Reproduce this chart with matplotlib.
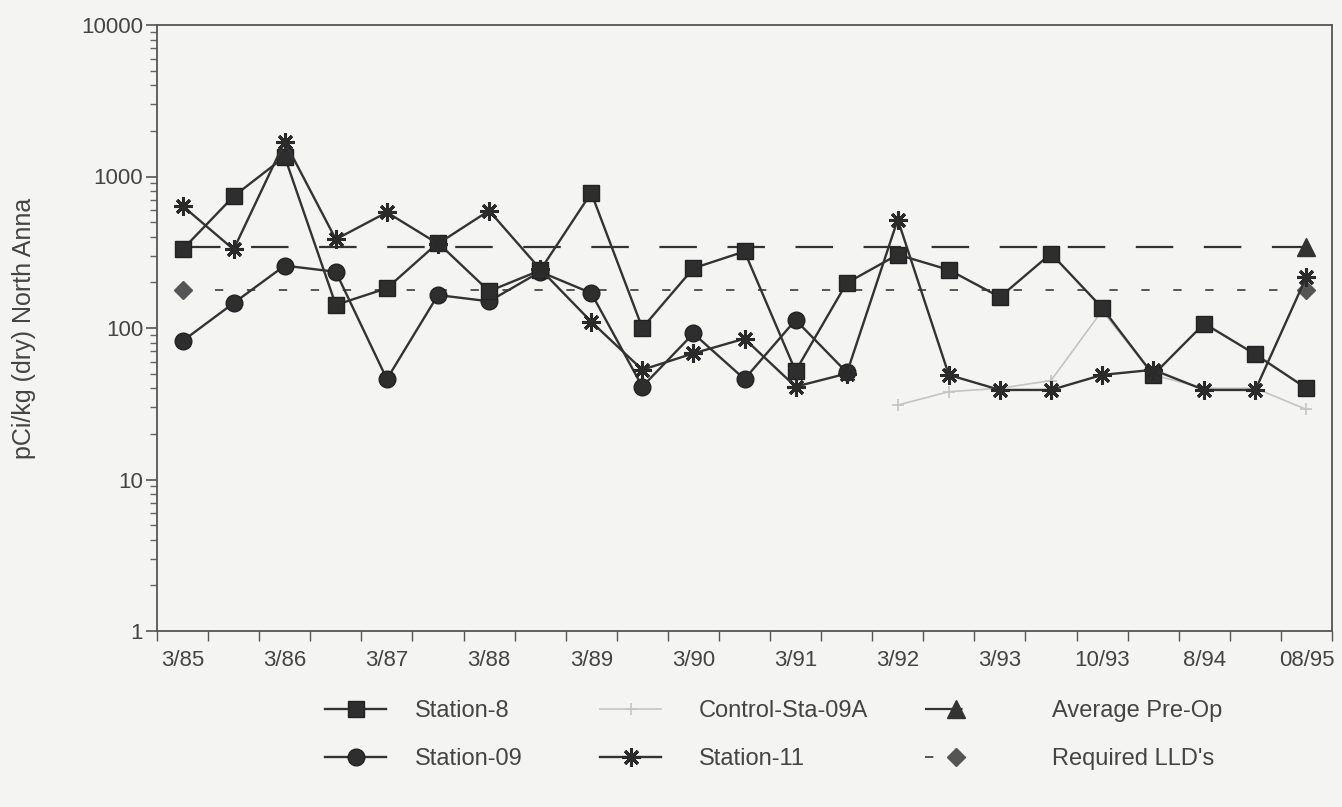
import numpy as np
import matplotlib
matplotlib.use("Agg")
import matplotlib.pyplot as plt
from matplotlib.lines import Line2D
from matplotlib.ticker import FixedLocator, NullFormatter

plt.rcParams['font.family'] = ['Liberation Sans', 'DejaVu Sans']
plt.rcParams['lines.scale_dashes'] = False

nan = np.nan

# ---- data ----
categories = ['3/85', '9/85', '3/86', '9/86', '3/87', '9/87', '3/88', '9/88',
              '3/89', '9/89', '3/90', '9/90', '3/91', '9/91', '3/92', '9/92',
              '3/93', '6/93', '10/93', '3/94', '8/94', '3/95', '08/95']
tick_labels = ['3/85', '3/86', '3/87', '3/88', '3/89', '3/90', '3/91', '3/92',
               '3/93', '10/93', '8/94', '08/95']

station_8 = [330, 740, 1350, 142, 183, 365, 175, 240, 780, 100, 248, 320,
             52, 198, 305, 242, 160, 310, 136, 49, 107, 67, 40]
station_09 = [82, 146, 258, 235, 46, 165, 150, 235, 170, 41, 92, 46,
              113, 51, nan, nan, nan, nan, nan, nan, nan, nan, nan]
control_09a = [nan, nan, nan, nan, nan, nan, nan, nan, nan, nan, nan, nan,
               nan, nan, 31, 38, 40, 45, 130, 49, 40, 40, 29]
station_11 = [640, 330, 1700, 385, 580, 360, 595, 245, 110, 53, 68, 85,
              41, 50, 520, 49, 39, 39, 49, 53, 39, 39, 218]
avg_pre_op = [340] * 23
required_lld = [177] * 23

# ---- figure ----
W, H = 1342, 807
bg = '#f4f4f2'
fig = plt.figure(figsize=(W / 100, H / 100), dpi=100, facecolor=bg)
L, R, T, B = 157, 1332, 25, 631
ax = fig.add_axes([L / W, 1 - B / H, (R - L) / W, (B - T) / H], facecolor=bg)

x = np.arange(len(categories))
dark = '#333333'
lw = 1.7

ax.plot(x, avg_pre_op, color=dark, lw=1.6, dashes=(27, 22),
        marker='^', markersize=13, markevery=[len(x) - 1],
        markerfacecolor=dark, markeredgecolor=dark, zorder=2)
ax.plot(x, required_lld, color='#555555', lw=1.4, dashes=(6, 17),
        marker='D', markersize=9, markevery=[0, len(x) - 1],
        markerfacecolor='#555555', markeredgecolor='#555555', zorder=2)
ax.plot(x, control_09a, color='#c4c4c4', lw=1.2, marker='+', markersize=9,
        markeredgewidth=1.2, zorder=3)
ax.plot(x, station_09, color=dark, lw=lw, marker='o', markersize=12,
        markerfacecolor='#2e2e2e', markeredgecolor='#222222', zorder=4)
ax.plot(x, station_8, color=dark, lw=lw, marker='s', markersize=12,
        markerfacecolor='#2e2e2e', markeredgecolor='#222222', zorder=5)
ax.plot(x, station_11, color=dark, lw=lw, marker=(8, 2, 0), markersize=13,
        markeredgewidth=2.2, markeredgecolor='#2a2a2a', zorder=6)

ax.set_yscale('log')
ax.set_ylim(1, 10000)
ax.set_xlim(-0.5, len(x) - 0.5)

ax.yaxis.set_major_locator(FixedLocator([1, 10, 100, 1000, 10000]))
ax.set_yticklabels(['1', '10', '100', '1000', '10000'])
minors = [m * 10 ** e for e in range(0, 4) for m in range(2, 10)]
ax.yaxis.set_minor_locator(FixedLocator(minors))
ax.yaxis.set_minor_formatter(NullFormatter())

ax.set_xticks(np.arange(-0.5, len(x), 1))
ax.set_xticklabels([])
ax.set_xticks(np.arange(0, len(x), 2), minor=True)
ax.set_xticklabels(tick_labels, minor=True)

ax.tick_params(axis='y', which='major', length=8, width=1.2, color='#555555',
               labelsize=16, labelcolor='#444444', pad=2)
ax.tick_params(axis='y', which='minor', length=5, width=1.0, color='#666666')
ax.tick_params(axis='x', which='major', length=7, width=1.0, color='#555555')
ax.tick_params(axis='x', which='minor', length=0, labelsize=16,
               labelcolor='#444444', pad=14)

for s in ax.spines.values():
    s.set_color('#555555')
    s.set_linewidth(1.3)

fig.text(24 / W, 1 - ((T + B) / 2) / H, 'pCi/kg (dry) North Anna',
         rotation=90, ha='center', va='center', fontsize=18, color='#444444')

# ---- legend (three columns) ----
def h(**kw):
    return Line2D([], [], **kw)

col1 = [h(color=dark, lw=lw, marker='s', markersize=12, markerfacecolor='#2e2e2e',
          markeredgecolor='#222222'),
        h(color=dark, lw=lw, marker='o', markersize=12, markerfacecolor='#2e2e2e',
          markeredgecolor='#222222')]
col2 = [h(color='#c4c4c4', lw=1.2, marker='+', markersize=9, markeredgewidth=1.2),
        h(color=dark, lw=lw, marker=(8, 2, 0), markersize=13, markeredgewidth=2.2,
          markeredgecolor='#2a2a2a')]
col3 = [h(color=dark, lw=1.6, dashes=(27, 22), marker='^', markersize=13,
          markerfacecolor=dark, markeredgecolor=dark),
        h(color='#555555', lw=1.4, dashes=(6, 17), marker='D', markersize=9,
          markerfacecolor='#555555', markeredgecolor='#555555')]
labels = [['Station-8', 'Station-09'], ['Control-Sta-09A', 'Station-11'],
          ['Average Pre-Op', "Required LLD's"]]
xs = [325, 600, 925]
pads = [1.2, 1.6, 2.8]
for hs, lb, x0, pd in zip([col1, col2, col3], labels, xs, pads):
    lg = fig.legend(hs, lb, loc='upper left', bbox_to_anchor=(x0 / W, 1 - 700 / H),
                    frameon=False, fontsize=17, handlelength=2.6, handletextpad=pd,
                    labelspacing=1.1, borderpad=0, borderaxespad=0)
    for t in lg.get_texts():
        t.set_color('#444444')

fig.savefig('out.png', dpi=100, facecolor=bg)
